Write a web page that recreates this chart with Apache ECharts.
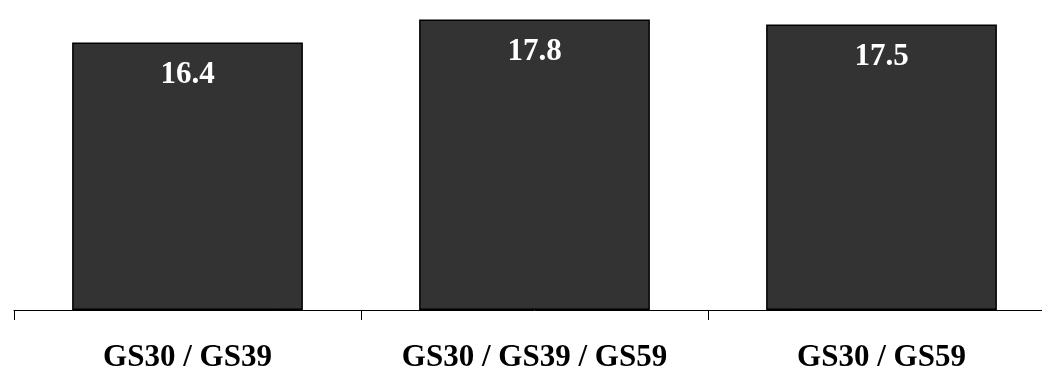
<!DOCTYPE html>
<html><head><meta charset="utf-8">
<script src="https://cdn.jsdelivr.net/npm/echarts@6/dist/echarts.min.js"></script>
<style>html,body{margin:0;padding:0;background:#fff;overflow:hidden;width:1042px;height:371px}#c{width:1070px;height:371px}</style>
</head><body><div id="c"></div>
<script>
const categories = ['GS30 / GS39', 'GS30 / GS39 / GS59', 'GS30 / GS59'];
const values = [16.4, 17.8, 17.5];
const font = '"Liberation Serif", "Times New Roman", serif';
const chart = echarts.init(document.getElementById('c'), null, {renderer: 'canvas'});
chart.setOption({
  animation: false,
  grid: {left: 14, top: 0, width: 1041, height: 310, containLabel: false, outerBoundsMode: 'none'},
  xAxis: {
    type: 'category', data: categories, boundaryGap: true,
    axisLine: {lineStyle: {color: '#000', width: 1}},
    axisTick: {show: true, interval: 0, length: 10, lineStyle: {color: '#000', width: 1}},
    axisLabel: {interval: 0, fontFamily: font, fontWeight: 'bold', fontSize: 31, color: '#000', margin: 32}
  },
  yAxis: {type: 'value', min: 0, max: 19, show: false, splitLine: {show: false}},
  series: [{
    type: 'bar', data: values, barWidth: '66.5%',
    itemStyle: {color: '#333333', borderColor: '#000', borderWidth: 1.5},
    label: {show: true, position: 'insideTop', distance: 17, color: '#fff',
      fontFamily: font, fontWeight: 'bold', fontSize: 31,
      formatter: p => p.value.toFixed(1)}
  }]
});
</script></body></html>
